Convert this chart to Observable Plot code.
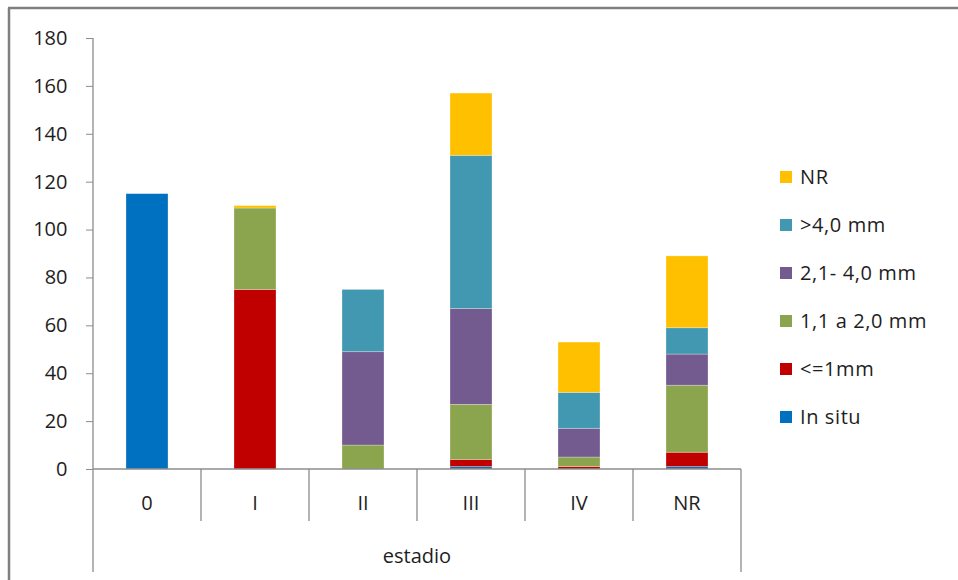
<!DOCTYPE html>
<html>
<head>
<meta charset="utf-8">
<script src="https://cdn.jsdelivr.net/npm/d3@7"></script>
<script src="https://cdn.jsdelivr.net/npm/@observablehq/plot@0.6"></script>
<style>
  html, body { margin: 0; padding: 0; background: #fff; }
  #chart { position: relative; width: 958px; height: 580px; overflow: hidden; }
</style>
</head>
<body>
<div id="chart"></div>
<script>
const estadios = ["0", "I", "II", "III", "IV", "NR"];
const series = ["In situ", "<=1mm", "1,1 a 2,0 mm", "2,1- 4,0 mm", ">4,0 mm", "NR"];
const colors = ["#0070C0", "#C00000", "#8BA54E", "#735A8F", "#4398B1", "#FFC000"];
const inSitu   = [115, 0, 0, 1, 0, 1];
const le1mm    = [0, 75, 0, 3, 1, 6];
const mm11a20  = [0, 34, 10, 23, 4, 28];
const mm21a40  = [0, 0, 39, 40, 12, 13];
const mmGt40   = [0, 0, 26, 64, 15, 11];
const nrVals   = [0, 1, 0, 26, 21, 30];
const yTicks = [0, 20, 40, 60, 80, 100, 120, 140, 160, 180];
const xTitle = "estadio";

const valuesBySeries = [inSitu, le1mm, mm11a20, mm21a40, mmGt40, nrVals];
const data = [];
series.forEach((s, si) => {
  estadios.forEach((e, ei) => {
    data.push({estadio: e, serie: s, value: valuesBySeries[si][ei]});
  });
});

const FONT = "'Open Sans', sans-serif";
const FS = 20;
const TXT = "#1e1e1e";
const AX = "#8c8c8c";

const plot = Plot.plot({
  width: 958,
  height: 580,
  marginTop: 38,
  marginBottom: 111,
  marginLeft: 93,
  marginRight: 217,
  style: {fontFamily: FONT, fontSize: FS + "px", color: TXT, background: "#fff"},
  x: {domain: estadios, paddingInner: 0.61, paddingOuter: 0.305, axis: null},
  y: {domain: [0, 180], ticks: yTicks, label: null},
  color: {domain: series, range: colors},
  marks: [
    Plot.axisY({ticks: yTicks, tickSize: 7, tickPadding: 19, label: null, stroke: AX, fill: TXT, fontSize: FS}),
    Plot.barY(data, Plot.stackY({order: series, x: "estadio", y: "value", fill: "serie", stroke: "#ffffff", strokeOpacity: 0.35, strokeWidth: 0.8}))
  ]
});

const svg = d3.select(plot);
const xs = plot.scale("x");
const ys = plot.scale("y");
const step = xs.step;
const x0 = xs.apply(estadios[0]) - (step - xs.bandwidth) / 2;
const x1 = x0 + step * estadios.length;
const yTop = ys.apply(180);
const yBase = ys.apply(0);

const g = svg.append("g").attr("stroke", AX).attr("stroke-width", 1.3).attr("fill", "none");
// outer chart border (top and left)
g.append("line").attr("x1", 8).attr("x2", 958).attr("y1", 8).attr("y2", 8).attr("stroke", "#7f7f7f").attr("stroke-width", 2.5);
g.append("line").attr("x1", 9).attr("x2", 9).attr("y1", 8).attr("y2", 580).attr("stroke", "#7f7f7f").attr("stroke-width", 2.5);
// left axis line extended down
g.append("line").attr("x1", x0).attr("x2", x0).attr("y1", yTop).attr("y2", 572);
// right outer category line
g.append("line").attr("x1", x1).attr("x2", x1).attr("y1", yBase).attr("y2", 572);
// baseline
g.append("line").attr("x1", x0).attr("x2", x1).attr("y1", yBase).attr("y2", yBase);
// category separators
estadios.slice(1).forEach((e, i) => {
  const xx = x0 + step * (i + 1);
  g.append("line").attr("x1", xx).attr("x2", xx).attr("y1", yBase).attr("y2", yBase + 52);
});
// category labels
const tg = svg.append("g").attr("font-family", FONT).attr("font-size", FS).attr("fill", TXT).attr("text-anchor", "middle");
estadios.forEach(e => {
  tg.append("text").attr("x", xs.apply(e) + xs.bandwidth / 2).attr("y", yBase + 41).text(e);
});
tg.append("text").attr("x", (x0 + x1) / 2).attr("y", yBase + 94).text(xTitle);

// legend (reverse order, top = NR)
const cs = plot.scale("color");
const lg = svg.append("g").attr("font-family", FONT).attr("font-size", FS).attr("fill", TXT).attr("text-anchor", "start").attr("letter-spacing", "0.6px");
const legendItems = series.slice().reverse();
legendItems.forEach((s, i) => {
  const cy = 177 + i * 48;
  lg.append("rect").attr("x", 780).attr("y", cy - 6).attr("width", 12).attr("height", 12).attr("fill", cs.apply(s));
  lg.append("text").attr("x", 800).attr("y", cy).attr("dy", "0.36em").text(s);
});

document.getElementById("chart").appendChild(plot);
</script>
</body>
</html>
